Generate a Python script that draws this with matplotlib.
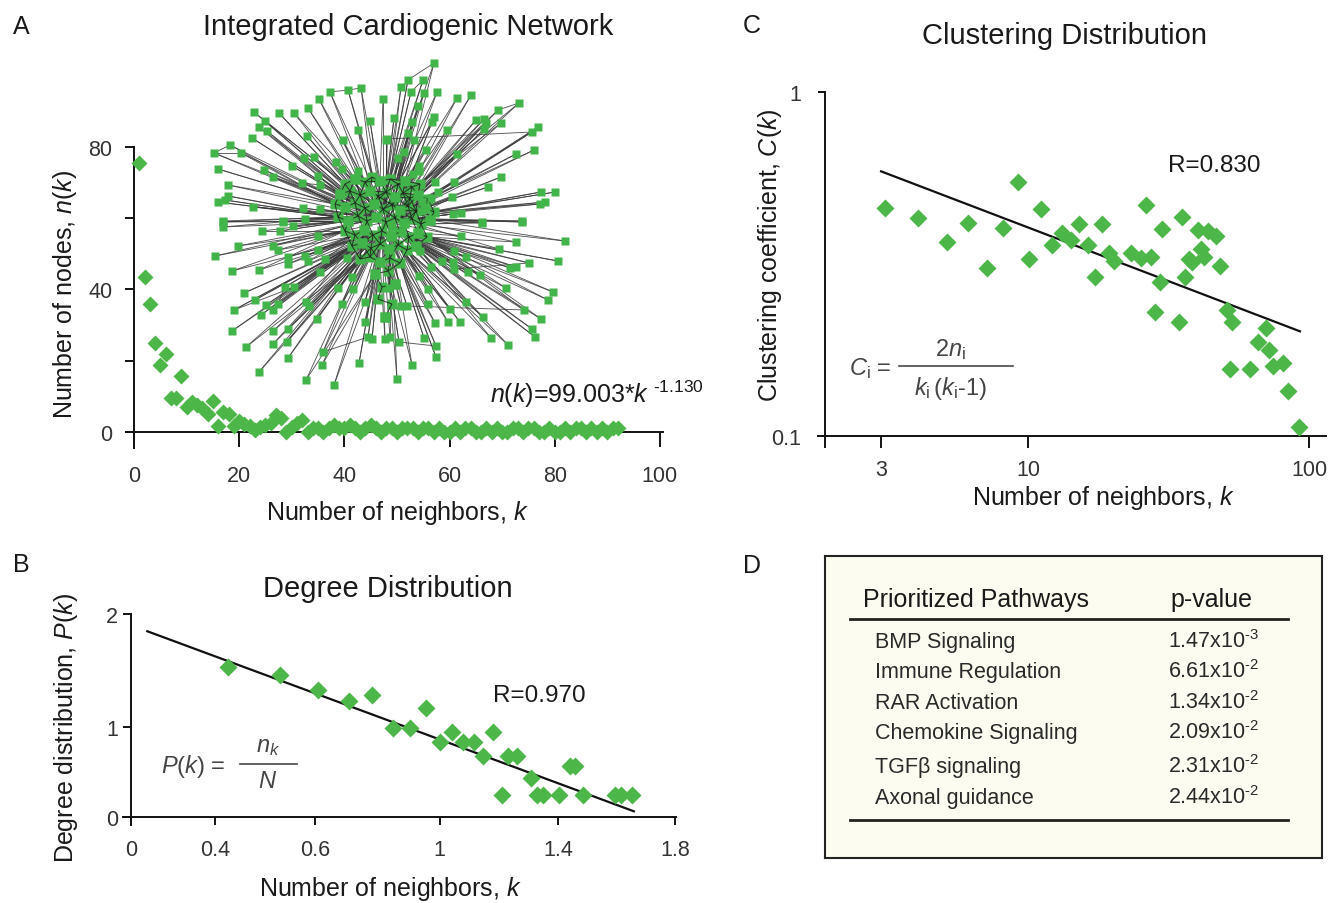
import numpy as np
import matplotlib
matplotlib.use("Agg")
import matplotlib.pyplot as plt
from matplotlib.lines import Line2D
from matplotlib.collections import LineCollection
from matplotlib.ticker import NullLocator, FixedLocator, FixedFormatter

plt.rcParams["font.family"] = ["Liberation Sans", "DejaVu Sans"]
plt.rcParams["mathtext.fontset"] = "custom"
plt.rcParams["mathtext.rm"] = "Liberation Sans"
plt.rcParams["mathtext.it"] = "Liberation Sans:italic"
plt.rcParams["mathtext.bf"] = "Liberation Sans:bold"

# ---- Panel A: n(k) vs k -------------------------------------------------
A_K = list(range(1, 93))
A_N = [75.5, 43.6, 36.0, 24.9, 18.9, 22.0, 9.6, 9.6, 15.6, 7.0,
       8.5, 7.5, 6.8, 5.1, 8.6, 1.7, 5.5, 5.0, 1.6, 3.1,
       2.2, 1.6, 0.5, 1.3, 1.9, 2.4, 4.7, 3.8, 0.0, 1.4,
       2.5, 3.5,
       0, 1, 1, 0, 1, 2, 1, 1, 2, 1, 0, 1, 2, 1, 0, 1, 1, 0, 1, 1,
       1, 0, 1, 1, 0, 1, 0, 0, 1, 0, 1, 1, 0, 0, 1, 0, 1, 0, 0, 1,
       1, 0, 1, 1, 0, 0, 1, 0, 0, 1, 0, 1, 1, 0, 1, 0, 1, 0, 1, 1]
A_XTICKS = [0, 20, 40, 60, 80, 100]
A_YTICKS = [0, 20, 40, 60, 80]
A_YLABELS = ["0", "", "40", "", "80"]

# network inset: layout positions (inset units)
NET_OUTER = [
    (330, 93), (348, 91), (361, 89), (319, 100), (383, 100), (254, 113), (279, 114),
    (294, 114), (308, 109), (265, 122), (259, 128), (267, 132), (370, 122), (358, 131),
    (252, 139), (307, 137), (343, 141), (386, 141), (230, 146), (214, 154), (241, 154),
    (304, 159), (314, 158), (336, 163), (292, 167), (264, 171), (218, 170), (358, 172),
    (342, 170), (273, 178), (318, 177), (302, 184), (228, 186), (320, 186), (228, 197),
    (225, 201), (218, 203), (253, 208), (303, 209), (320, 210), (223, 222), (283, 222),
    (305, 220),
    (434, 64), (408, 81), (423, 81), (401, 88), (411, 93), (424, 94), (437, 93),
    (418, 107), (457, 99), (471, 96), (519, 104), (498, 111), (394, 119), (434, 118),
    (412, 123), (432, 123), (476, 121), (484, 120), (486, 124), (484, 130), (501, 124),
    (447, 131), (408, 134), (414, 141), (387, 140), (532, 133), (538, 128), (426, 151),
    (404, 153), (457, 155), (516, 155), (534, 151), (398, 159), (419, 167), (419, 172),
    (413, 175), (501, 178), (435, 183), (454, 183), (488, 188), (438, 193), (541, 193),
    (555, 193), (545, 203), (540, 205), (452, 198), (431, 199), (422, 202), (453, 215),
    (461, 214), (421, 212), (482, 223), (522, 222),
    (223, 223), (223, 228), (283, 223), (293, 227), (262, 232), (280, 232), (318, 237),
    (238, 247), (273, 247), (278, 251), (215, 257), (318, 251), (288, 258), (305, 257),
    (308, 262), (325, 260), (232, 272), (259, 271), (288, 265), (320, 273), (347, 259),
    (352, 278), (244, 294), (255, 301), (285, 288), (294, 288), (338, 289), (353, 290),
    (266, 306), (278, 305), (234, 311), (273, 311), (261, 316), (306, 303), (309, 307),
    (342, 305), (317, 320), (232, 332), (273, 332), (288, 330), (246, 348), (273, 345),
    (287, 343), (288, 359), (323, 353), (322, 366), (359, 364), (259, 373), (306, 381),
    (334, 386), (365, 323), (368, 338), (372, 340), (385, 340), (365, 303),
    (482, 224), (522, 223), (461, 237), (516, 243), (565, 242), (499, 250), (454, 252),
    (466, 258), (558, 262), (529, 264), (516, 268), (510, 269), (454, 270), (468, 273),
    (480, 276), (431, 268), (419, 277), (428, 290), (389, 289), (506, 289), (553, 293),
    (548, 301), (466, 303), (428, 305), (407, 307), (401, 307), (450, 310), (524, 311),
    (483, 318), (541, 320), (435, 324), (448, 323), (460, 323), (532, 330), (535, 338),
    (390, 338), (424, 339), (491, 339), (508, 346), (399, 343), (436, 347), (436, 358),
    (412, 366), (397, 380), (392, 228), (402, 233), (420, 252), (442, 262), (453, 263),
]
NET_CORE = [
    (345, 185), (355, 180), (365, 183), (372, 178), (380, 182), (390, 180), (398, 185),
    (405, 182), (412, 188), (420, 185), (340, 195), (350, 192), (360, 196), (370, 192),
    (378, 197), (386, 193), (395, 198), (403, 194), (410, 199), (418, 196), (428, 200),
    (335, 205), (345, 208), (355, 204), (365, 209), (374, 205), (383, 210), (392, 206),
    (400, 211), (408, 207), (416, 212), (425, 209), (434, 213), (338, 218), (348, 222),
    (358, 217), (367, 222), (376, 218), (386, 223), (395, 219), (404, 224), (412, 220),
    (421, 225), (430, 221), (345, 232), (355, 236), (364, 231), (373, 236), (382, 232),
    (391, 237), (400, 233), (409, 238), (418, 234), (427, 238), (352, 247), (362, 244),
    (371, 249), (380, 245), (389, 250), (398, 246), (407, 251), (416, 247), (360, 260),
    (370, 258), (380, 263), (390, 259), (400, 264), (375, 275), (388, 272), (382, 288),
    (395, 285), (378, 300), (392, 305), (385, 318),
]
# a few links between peripheral nodes (index pairs into NET_OUTER)
NET_PERIPH_LINKS = [(0, 1), (1, 2), (43, 44), (45, 47), (53, 54), (18, 19), (19, 20),
                    (67, 68), (33, 31), (120, 125), (121, 126), (175, 178), (190, 191),
                    (160, 163), (140, 147)]

# ---- Panel B: degree distribution ---------------------------------------
B_X = [0.320, 0.495, 0.620, 0.722, 0.799, 0.867, 0.923, 0.976, 1.022, 1.062,
       1.098, 1.136, 1.166, 1.198, 1.228, 1.248, 1.278, 1.323, 1.345, 1.364,
       1.418, 1.454, 1.469, 1.498, 1.603, 1.624, 1.658]
B_Y = [1.481, 1.399, 1.254, 1.140, 1.205, 0.877, 0.877, 1.071, 0.736, 0.840,
       0.742, 0.742, 0.598, 0.840, 0.220, 0.598, 0.598, 0.384, 0.220, 0.220,
       0.220, 0.499, 0.499, 0.220, 0.220, 0.220, 0.220]
B_FIT_X = [0.054, 1.665]
B_FIT_Y = [1.83, 0.056]
B_XTICKS = [0, 0.279, 0.610, 1.022, 1.414, 1.801]
B_XLABELS = ["0", "0.4", "0.6", "1", "1.4", "1.8"]
B_YTICKS = [0, 0.89, 2.0]
B_YLABELS = ["0", "1", "2"]

# ---- Panel C: clustering distribution -----------------------------------
C_X = [3.11, 4.07, 5.13, 6.11, 7.13, 8.15, 9.18, 10.1, 11.1, 12.2,
       13.2, 14.2, 15.2, 16.3, 17.3, 18.3, 19.4, 20.2, 23.3, 25.2,
       26.4, 27.4, 28.3, 29.4, 30.1, 34.5, 35.4, 36.1, 37.3, 38.5,
       40.4, 41.3, 42.4, 43.6, 46.5, 48.1, 50.9, 52.4, 53.2, 61.5,
       65.8, 70.3, 71.8, 74.3, 80.9, 84.3, 92.4]
C_Y = [0.461, 0.429, 0.366, 0.417, 0.307, 0.402, 0.548, 0.327, 0.456, 0.359,
       0.390, 0.371, 0.413, 0.359, 0.289, 0.412, 0.341, 0.323, 0.341, 0.330,
       0.469, 0.331, 0.230, 0.280, 0.401, 0.214, 0.434, 0.290, 0.328, 0.321,
       0.396, 0.350, 0.332, 0.395, 0.381, 0.312, 0.233, 0.157, 0.214, 0.157,
       0.187, 0.206, 0.178, 0.160, 0.163, 0.135, 0.106]
C_FIT_X = [3.0, 92.9]
C_FIT_Y = [0.588, 0.2015]
C_XTICKS = [3, 10, 100]
C_YTICKS = [0.1, 1]

# ---- Panel D: table -----------------------------------------------------
PATHWAYS = ["BMP Signaling", "Immune Regulation", "RAR Activation",
            "Chemokine Signaling", "TGF\u03b2 signaling", "Axonal guidance"]
P_MANT = ["1.47", "6.61", "1.34", "2.09", "2.31", "2.44"]
P_EXP = ["-3", "-2", "-2", "-2", "-2", "-2"]

# ---- layout helpers (reference pixel space 1334 x 904) ------------------
W, H = 1334, 904
GREEN = "#4cb748"
NODE_GREEN = "#42b54a"
TXT = "#1a1a1a"
GREY = "#454545"


def box(x0, y0, x1, y1):
    return [x0 / W, 1 - y1 / H, (x1 - x0) / W, (y1 - y0) / H]


def put(x, y, s, **kw):
    kw.setdefault("va", "baseline")
    kw.setdefault("color", TXT)
    return fig.text(x / W, 1 - y / H, s, **kw)


def hline(x0, x1, y, lw=1.2, color=GREY):
    fig.add_artist(Line2D([x0 / W, x1 / W], [1 - y / H] * 2, color=color, lw=lw))


def style_axes(ax):
    for s in ("top", "right"):
        ax.spines[s].set_visible(False)
    for s in ("left", "bottom"):
        ax.spines[s].set_linewidth(1.4)
        ax.spines[s].set_color("#111111")
    ax.set_facecolor("none")


fig = plt.figure(figsize=(W / 100, H / 100), dpi=100)

# ---------------- A ----------------
axA = fig.add_axes(box(126, 148, 663, 449))
style_axes(axA)
axA.plot(A_K, A_N, "D", ms=8.6, color=GREEN, mec="none", clip_on=False, zorder=3)
axA.set_xlim(-1.52, 100.6)
axA.set_ylim(-4.5, 80)
axA.spines["left"].set_position(("data", 0))
axA.spines["bottom"].set_position(("data", 0))
axA.set_xticks(A_XTICKS)
axA.set_yticks(A_YTICKS)
axA.set_yticklabels(A_YLABELS)
axA.tick_params(axis="x", length=11, width=1.3, pad=13, labelsize=15.5,
                labelcolor="#333333")
axA.tick_params(axis="y", length=6.5, width=1.3, pad=9, labelsize=15.5,
                labelcolor="#333333")

# network picture inside A
axN = fig.add_axes(box(205, 55, 575, 390))
axN.set_xlim(205, 575)
axN.set_ylim(390, 55)
axN.axis("off")
core = np.array(NET_CORE, dtype=float)
outer = np.array(NET_OUTER, dtype=float)
centre = core.mean(axis=0)
segs = []
for p in outer:
    for frac in (0.35, 0.08):
        target = centre + frac * (p - centre)
        j = np.argmin(((core - target) ** 2).sum(axis=1))
        segs.append([p, core[j]])
for a, b in NET_PERIPH_LINKS:
    segs.append([outer[a], outer[b]])
core_segs = []
for i in range(len(core)):
    d = np.sqrt(((core - core[i]) ** 2).sum(axis=1))
    for j in np.where((d > 0) & (d < 17))[0]:
        if j > i:
            core_segs.append([core[i], core[j]])
axN.add_collection(LineCollection(segs, colors="#3a3a3a", linewidths=0.65,
                                  alpha=0.85, zorder=1))
axN.plot(core[:, 0], core[:, 1], "s", ms=7.5, color=NODE_GREEN, mec="none", zorder=2)
axN.add_collection(LineCollection(core_segs, colors="#202020", linewidths=0.8,
                                  alpha=0.8, zorder=2.5))
axN.plot(core[1::3, 0], core[1::3, 1], "s", ms=6.5, color=NODE_GREEN, mec="none",
         zorder=2.6)
axN.plot(outer[:, 0], outer[:, 1], "s", ms=5.6, color=NODE_GREEN, mec="none", zorder=3)

put(13, 34, "A", fontsize=18)
put(408, 35, "Integrated Cardiogenic Network", fontsize=21, ha="center")
put(397, 520, r"Number of neighbors, $\mathit{k}$", fontsize=18, ha="center")
put(65, 294, r"Number of nodes, $\mathit{n(k)}$", fontsize=18, ha="center",
    va="center", rotation=90)
put(490, 403, r"$\mathit{n(k)}$=99.003*$\mathit{k}^{\ \text{-1.130}}$",
    fontsize=18)

# ---------------- B ----------------
axB = fig.add_axes(box(123, 615, 676, 826))
style_axes(axB)
axB.plot(B_FIT_X, B_FIT_Y, color="#111111", lw=1.6, zorder=2)
axB.plot(B_X, B_Y, "D", ms=9.2, color=GREEN, mec="none", zorder=3, clip_on=False)
axB.set_xlim(-0.0265, 1.8046)
axB.set_ylim(-0.079, 2.0)
axB.spines["left"].set_position(("data", 0))
axB.spines["bottom"].set_position(("data", 0))
axB.set_xticks(B_XTICKS)
axB.set_xticklabels(B_XLABELS)
axB.set_yticks(B_YTICKS)
axB.set_yticklabels(B_YLABELS)
axB.tick_params(axis="x", length=6, width=1.3, pad=10, labelsize=15.5,
                labelcolor="#333333")
axB.tick_params(axis="y", length=5.5, width=1.3, pad=4, labelsize=15.5,
                labelcolor="#333333")

put(13, 572, "B", fontsize=18)
put(388, 597, "Degree Distribution", fontsize=21, ha="center")
put(390, 896, r"Number of neighbors, $\mathit{k}$", fontsize=18, ha="center")
put(66, 728, r"Degree distribution, $\mathit{P(k)}$", fontsize=18, ha="center",
    va="center", rotation=90)
put(493, 702, "R=0.970", fontsize=17.5)
put(161, 773, r"$\mathit{P(k)}$ =", fontsize=17, color=GREY)
hline(240, 297, 765)
put(268, 752, r"$\mathit{n}_{\mathit{k}}$", fontsize=17, ha="center", color=GREY)
put(268, 788, r"$\mathit{N}$", fontsize=17, ha="center", color=GREY)

# ---------------- C ----------------
axC = fig.add_axes(box(818, 93, 1326, 448))
style_axes(axC)
axC.set_xscale("log")
axC.set_yscale("log")
axC.plot(C_FIT_X, C_FIT_Y, color="#111111", lw=1.6, zorder=2)
axC.plot(C_X, C_Y, "D", ms=9.2, color=GREEN, mec="none", zorder=3, clip_on=False)
axC.set_xlim(1.789, 115)
axC.set_ylim(0.0929, 1.0)
axC.spines["left"].set_position(("data", 1.895))
axC.spines["bottom"].set_position(("data", 0.1))
axC.xaxis.set_major_locator(FixedLocator(C_XTICKS))
axC.xaxis.set_major_formatter(FixedFormatter([str(v) for v in C_XTICKS]))
axC.yaxis.set_major_locator(FixedLocator(C_YTICKS))
axC.yaxis.set_major_formatter(FixedFormatter(["0.1", "1"]))
axC.xaxis.set_minor_locator(NullLocator())
axC.yaxis.set_minor_locator(NullLocator())
axC.tick_params(axis="x", length=8.5, width=1.3, pad=8, labelsize=15.5,
                labelcolor="#333333")
axC.tick_params(axis="y", length=5, width=1.3, pad=12, labelsize=15.5,
                labelcolor="#333333")

put(743, 33, "C", fontsize=18)
put(1064, 44, "Clustering Distribution", fontsize=21, ha="center")
put(1103, 505, r"Number of neighbors, $\mathit{k}$", fontsize=18, ha="center")
put(770, 255, r"Clustering coefficient, $\mathit{C(k)}$", fontsize=18,
    ha="center", va="center", rotation=90)
put(1168, 172, "R=0.830", fontsize=17.5)
put(849, 375, r"$\mathit{C}_{\mathregular{i}}$ =", fontsize=17, color=GREY)
hline(899, 1013, 367)
put(950, 356, r"2$\mathit{n}_{\mathregular{i}}$", fontsize=17, ha="center", color=GREY)
put(950, 395, r"$\mathit{k}_{\mathregular{i}}\,(\mathit{k}_{\mathregular{i}}$-1)",
    fontsize=17, ha="center", color=GREY)

# ---------------- D ----------------
axD = fig.add_axes(box(825, 557, 1322, 859))
axD.set_facecolor("#fcfcf0")
axD.set_xticks([])
axD.set_yticks([])
for s in axD.spines.values():
    s.set_linewidth(1.5)
    s.set_color("#222222")

put(743, 573, "D", fontsize=18)
put(863, 607, "Prioritized Pathways", fontsize=18)
put(1211, 607, "p-value", fontsize=18, ha="center")
hline(850, 1288, 620, lw=2.0, color="#222222")
ROW_BASE = [648, 678, 709, 739, 773, 804]
for name, m, e, yb in zip(PATHWAYS, P_MANT, P_EXP, ROW_BASE):
    put(875, yb, name, fontsize=15.5, color="#2a2a2a")
    put(1168, yb, m + r"x10$^{\text{" + e + "}}$", fontsize=15.5,
        color="#2a2a2a")
hline(850, 1288, 821, lw=2.0, color="#222222")

fig.savefig("out.png", dpi=100)
